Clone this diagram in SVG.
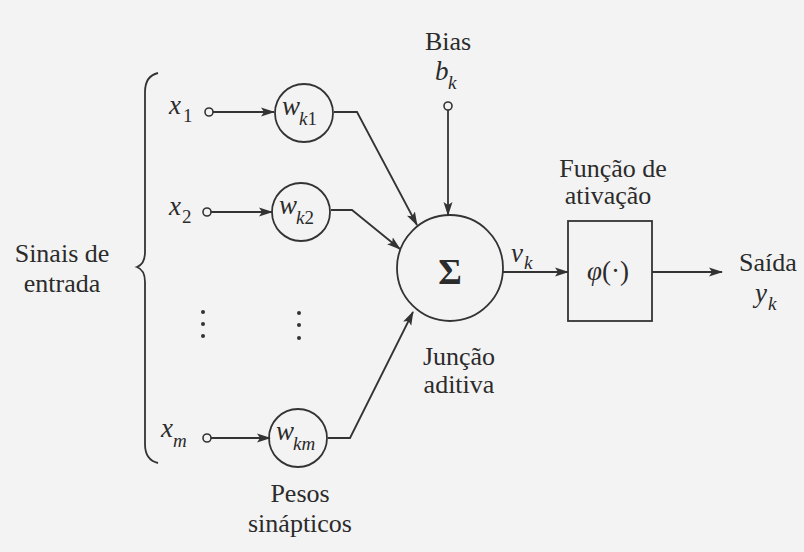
<svg xmlns="http://www.w3.org/2000/svg" width="804" height="552" viewBox="0 0 804 552">
<defs>
<marker id="arr" markerWidth="14" markerHeight="10" refX="13" refY="5" orient="auto" markerUnits="userSpaceOnUse">
<path d="M0,0.5 L14,5 L0,9.5 L3,5 Z" fill="#333"/>
</marker>
<style>
.t{font-family:"Liberation Serif","Times New Roman",serif;font-size:26px;fill:#2b2b2b}
.m{font-family:"Liberation Serif","Times New Roman",serif;font-style:italic;font-size:27px;fill:#2b2b2b}
.s{font-family:"Liberation Serif","Times New Roman",serif;font-style:italic;font-size:19px;fill:#2b2b2b}
.n{font-style:normal}
.ln{fill:none;stroke:#333;stroke-width:1.8}
.nd{fill:none;stroke:#333;stroke-width:1.8}
.pt{fill:#f4f3f3;stroke:#333;stroke-width:1.6}
.dot{fill:#333}
</style>
</defs>
<rect x="0" y="0" width="804" height="552" fill="#f4f3f3"/>

<g id="connectors">
<line class="ln" x1="213" y1="112" x2="274" y2="112" marker-end="url(#arr)"/>
<line class="ln" x1="211" y1="212" x2="272" y2="212" marker-end="url(#arr)"/>
<line class="ln" x1="211" y1="438" x2="270" y2="438" marker-end="url(#arr)"/>
<polyline class="ln" points="334,112 357,112 417,225" marker-end="url(#arr)"/>
<polyline class="ln" points="331,210 352,210 400,249" marker-end="url(#arr)"/>
<polyline class="ln" points="328,438 350,438 413,312" marker-end="url(#arr)"/>
<line class="ln" x1="448" y1="110" x2="448" y2="215" marker-end="url(#arr)"/>
<line class="ln" x1="503" y1="272" x2="568" y2="272" marker-end="url(#arr)"/>
<line class="ln" x1="652" y1="272" x2="722" y2="272" marker-end="url(#arr)"/>
</g>

<g id="inputs">
<path class="ln" d="M158,73 Q145,76 145,92 L145,252 Q145,264 137,267 Q145,270 145,282 L145,444 Q145,460 158,463"/>
<text class="t" x="62" y="262" text-anchor="middle">Sinais de</text>
<text class="t" x="62" y="292" text-anchor="middle">entrada</text>
</g>

<g id="x1">
<circle class="pt" cx="209" cy="112" r="4"/>
<text class="m" x="169" y="114">x</text><text class="s n" x="183" y="122">1</text>
</g>
<g id="x2">
<circle class="pt" cx="207" cy="212" r="4"/>
<text class="m" x="169" y="215">x</text><text class="s n" x="182" y="223">2</text>
</g>
<g id="xm">
<circle class="pt" cx="207" cy="438" r="4"/>
<text class="m" x="161" y="437">x</text><text class="s" x="173" y="447">m</text>
</g>

<g id="dots">
<circle class="dot" cx="203" cy="312" r="2"/>
<circle class="dot" cx="203" cy="324" r="2"/>
<circle class="dot" cx="203" cy="336" r="2"/>
<circle class="dot" cx="299" cy="313" r="2"/>
<circle class="dot" cx="299" cy="325" r="2"/>
<circle class="dot" cx="299" cy="338" r="2"/>
</g>

<g id="wk1">
<circle class="nd" cx="304" cy="113" r="29"/>
<text class="m" x="282" y="115">w</text><text class="s" x="299" y="125">k<tspan class="n">1</tspan></text>
</g>
<g id="wk2">
<circle class="nd" cx="301" cy="212" r="29"/>
<text class="m" x="279" y="214">w</text><text class="s" x="296" y="224">k<tspan class="n">2</tspan></text>
</g>
<g id="wkm">
<circle class="nd" cx="298" cy="438" r="29"/>
<text class="m" x="276" y="440">w</text><text class="s" x="293" y="450">km</text>
<text class="t" x="300" y="502" text-anchor="middle">Pesos</text>
<text class="t" x="300" y="532" text-anchor="middle">sinápticos</text>
</g>

<g id="bias">
<text class="t" x="448" y="50" text-anchor="middle">Bias</text>
<text class="m" x="435" y="80">b</text><text class="s" x="448" y="89">k</text>
<circle class="pt" cx="448" cy="106" r="4"/>
</g>

<g id="sum">
<circle class="nd" cx="450" cy="268" r="53"/>
<text x="450" y="284" text-anchor="middle" font-family="Liberation Serif, serif" font-size="36" font-weight="bold" fill="#2b2b2b">Σ</text>
<text class="t" x="459" y="365" text-anchor="middle">Junção</text>
<text class="t" x="459" y="393" text-anchor="middle">aditiva</text>
</g>

<g id="vk">
<text class="m" x="511" y="262">v</text><text class="s" x="524" y="269">k</text>
</g>

<g id="activation">
<rect class="nd" x="568" y="221" width="84" height="100"/>
<text class="m" x="608" y="280" text-anchor="middle">φ<tspan class="n">(·)</tspan></text>
<text class="t" x="613" y="177" text-anchor="middle">Função de</text>
<text class="t" x="608" y="204" text-anchor="middle">ativação</text>
</g>

<g id="output">
<text class="t" x="768" y="271" text-anchor="middle" font-size="23">Saída</text>
<text class="m" x="755" y="302">y</text><text class="s" x="768" y="310">k</text>
</g>
</svg>
